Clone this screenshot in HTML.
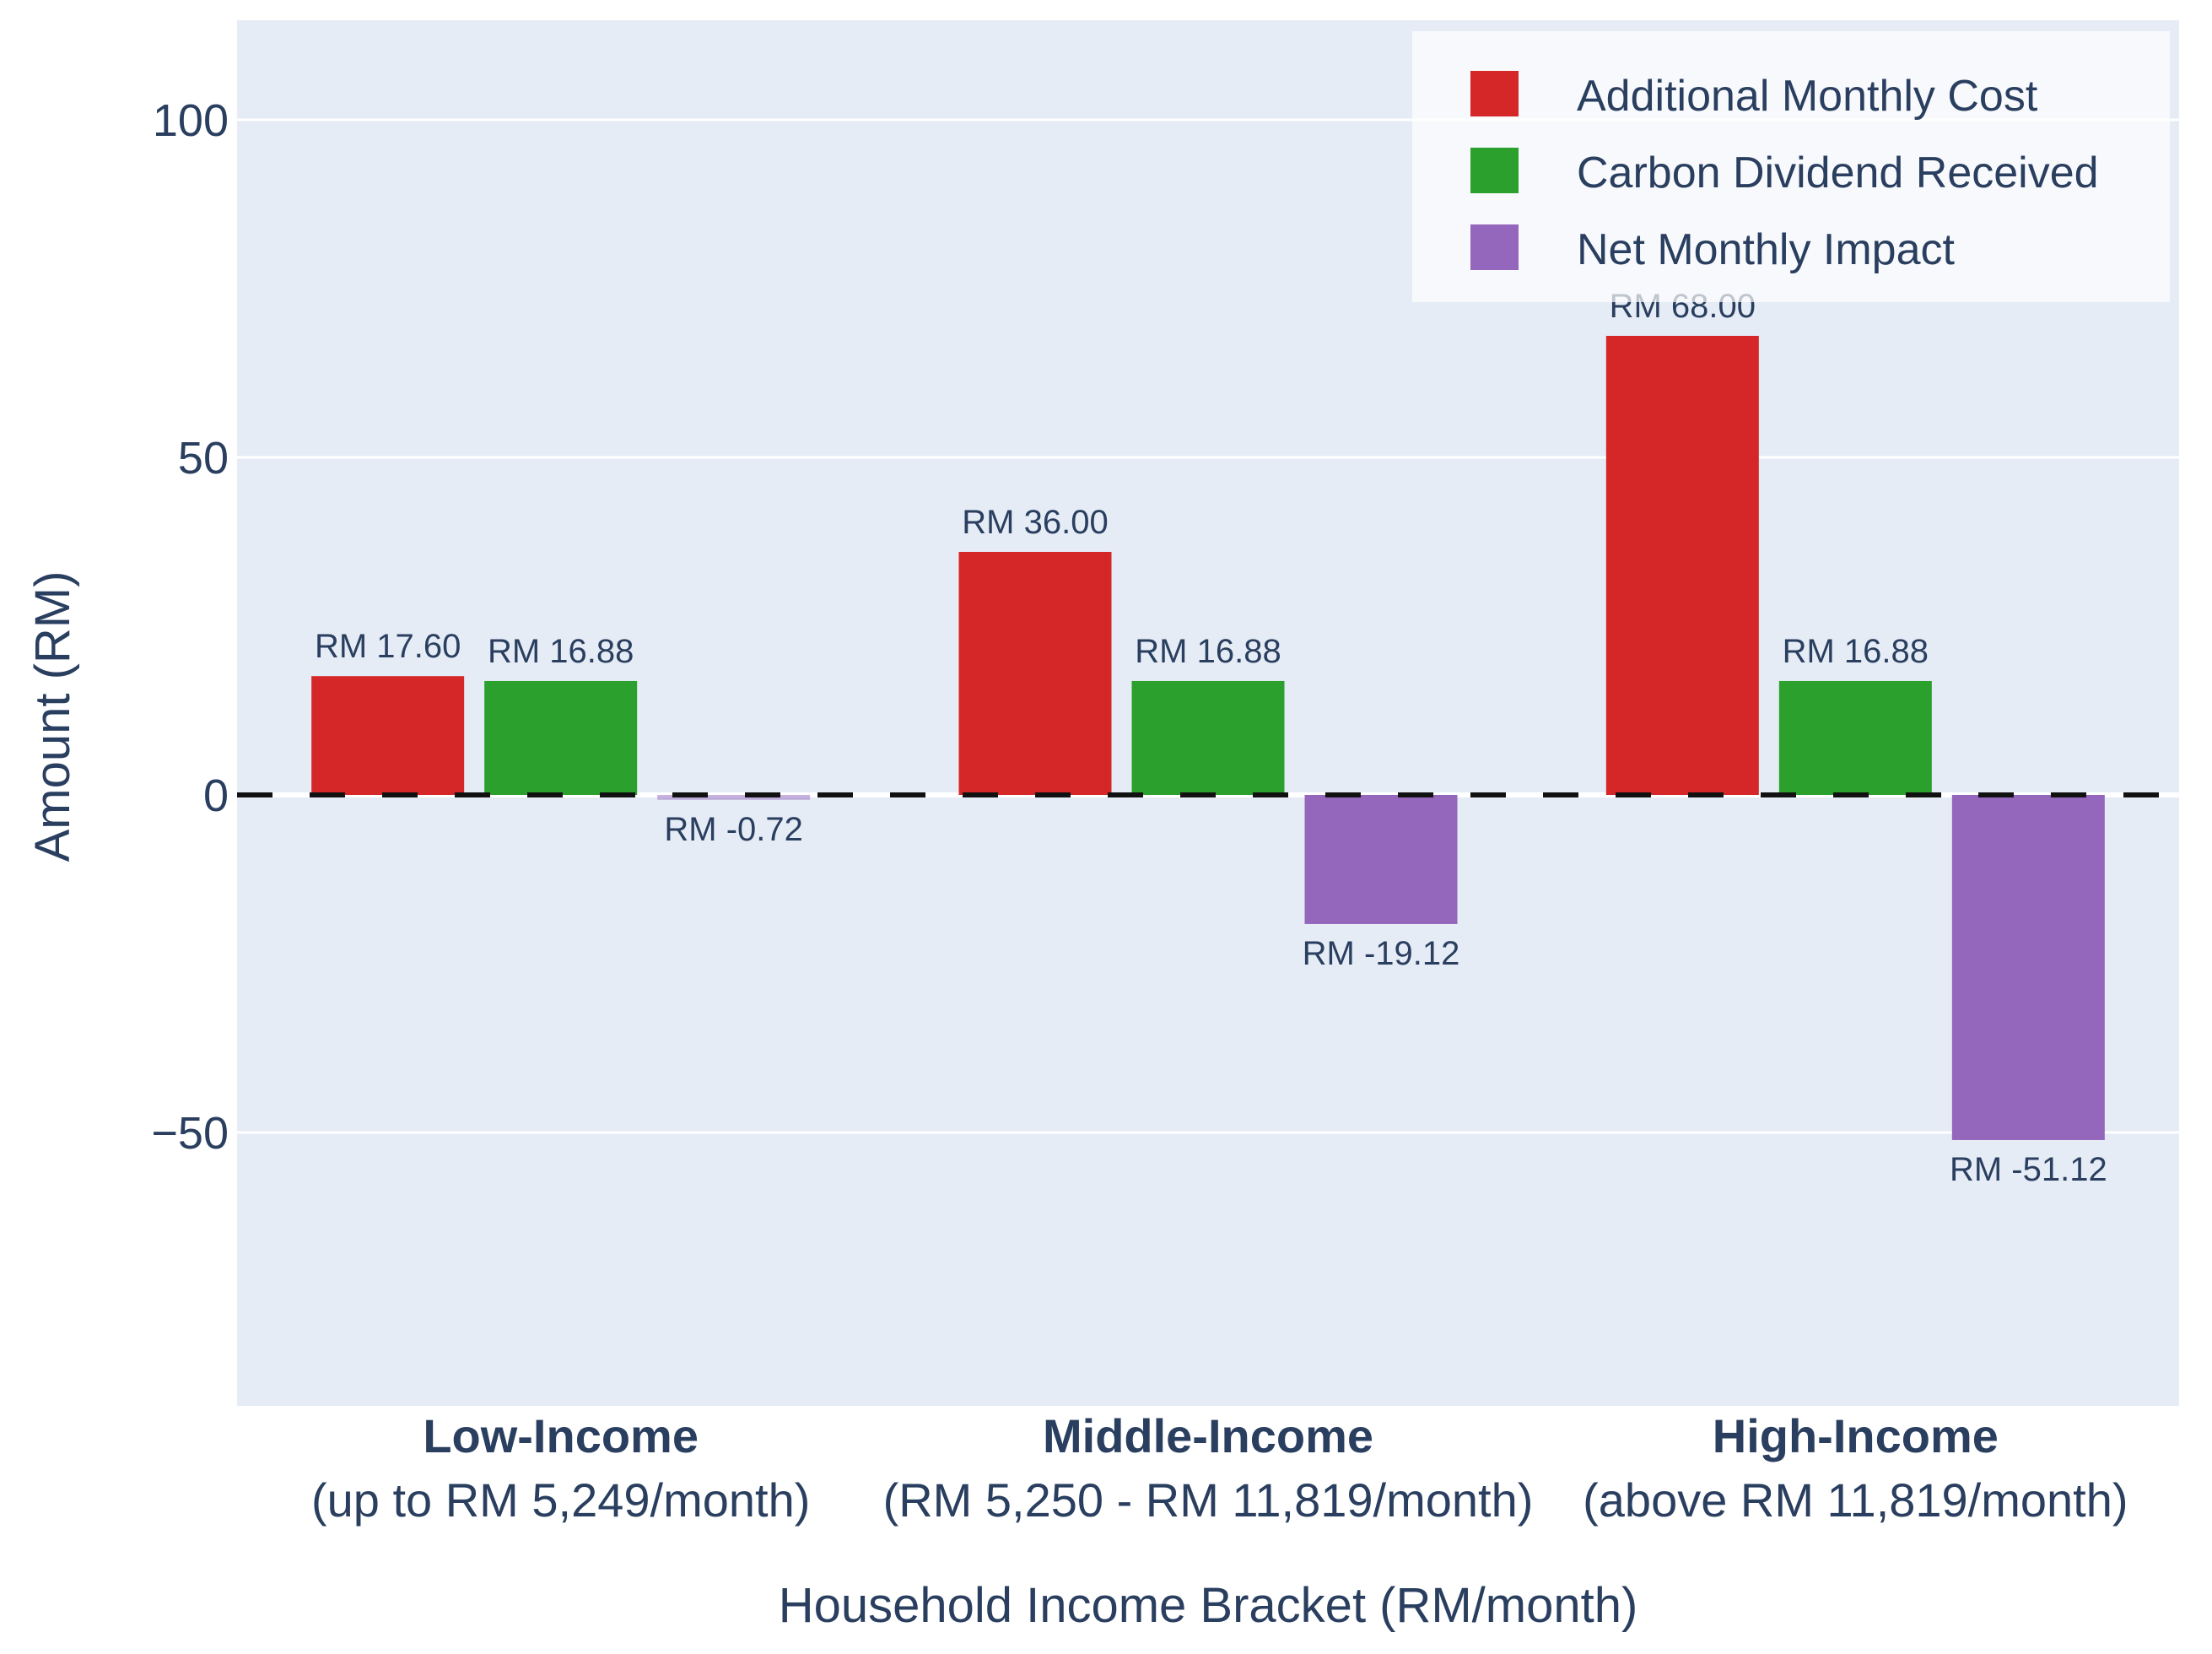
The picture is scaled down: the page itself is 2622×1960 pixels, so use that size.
<!DOCTYPE html>
<html><head><meta charset="utf-8"><style>
html,body{margin:0;padding:0;background:#fff;}
svg{display:block;font-family:"Liberation Sans",Arial,sans-serif;}
</style></head><body>
<svg id="chart" width="2622" height="1960" viewBox="0 0 2622 1960" xmlns="http://www.w3.org/2000/svg">
<rect x="281" y="24" width="2302" height="1642" fill="#e5ecf6"/>
<g id="grid"></g>
<g id="bars"></g>
<line id="zeroline" x1="281" x2="2560" stroke="#111" stroke-width="6" stroke-dasharray="42,44"/>
<g id="labels"></g>
<g id="yticks"></g>
<g id="xticks"></g>
<text transform="translate(82,849) rotate(-90)" text-anchor="middle" font-size="58" fill="#2a3f5f">Amount (RM)</text>
<text x="1432" y="1922" text-anchor="middle" font-size="58" fill="#2a3f5f">Household Income Bracket (RM/month)</text>
<g>
<rect x="1674" y="37" width="898" height="321" fill="#ffffff" fill-opacity="0.7"/>
<g><rect x="1743" y="84" width="57" height="54" fill="#d62728"/><text x="1869" y="131" font-size="52" fill="#2a3f5f">Additional Monthly Cost</text></g>
<g><rect x="1743" y="175" width="57" height="54" fill="#2ca02c"/><text x="1869" y="222" font-size="52" fill="#2a3f5f">Carbon Dividend Received</text></g>
<g><rect x="1743" y="266" width="57" height="54" fill="#9467bd"/><text x="1869" y="313" font-size="52" fill="#2a3f5f">Net Monthly Impact</text></g>
</g>
</svg>
<script>
const categories = ["Low-Income","Middle-Income","High-Income"];
const categorySub = ["(up to RM 5,249/month)","(RM 5,250 - RM 11,819/month)","(above RM 11,819/month)"];
const costValues = [17.60, 36.00, 68.00];
const dividendValues = [16.88, 16.88, 16.88];
const netValues = [-0.72, -19.12, -51.12];
const yTicks = [-50, 0, 50, 100];
const yTickLabels = ["\u221250", "0", "50", "100"];

const NS = "http://www.w3.org/2000/svg";
const plotL = 281, plotR = 2583, zeroY = 942, pxPerUnit = 8;
function y(v){ return zeroY - v * pxPerUnit; }
const catW = (plotR - plotL) / categories.length;
function xCenter(i){ return plotL + catW * (i + 0.5); }
const barW = 181, step = 205;
function mk(tag, attrs, parent){ const e = document.createElementNS(NS, tag); for (const k in attrs) e.setAttribute(k, attrs[k]); parent.appendChild(e); return e; }

const grid = document.getElementById('grid');
const yt = document.getElementById('yticks');
yTicks.forEach((t, i) => {
  const g = mk('line', {x1: plotL, x2: plotR, y1: y(t), y2: y(t), stroke: '#fff', 'stroke-width': t === 0 ? 6 : 3}, grid);
  
  
  const tx = mk('text', {x: 271, y: y(t) + 19, 'text-anchor': 'end', 'font-size': 54, fill: '#2a3f5f'}, yt);
  tx.textContent = yTickLabels[i];
  
  
});
document.getElementById('zeroline').setAttribute('y1', y(0));
document.getElementById('zeroline').setAttribute('y2', y(0));

const series = [
  {vals: costValues, color: '#d62728', name: 'cost'},
  {vals: dividendValues, color: '#2ca02c', name: 'dividend'},
  {vals: netValues, color: '#9467bd', name: 'net'}
];
const bars = document.getElementById('bars');
const labels = document.getElementById('labels');
series.forEach((s, si) => {
  s.vals.forEach((v, i) => {
    const cx = xCenter(i) + (si - 1) * step;
    const top = Math.min(y(v), y(0)), h = Math.max(Math.abs(y(v) - y(0)), 1);
    const r = mk('rect', {x: cx - barW / 2, y: top, width: barW, height: h, fill: s.color, 'fill-opacity': Math.abs(v) < 2 ? 0.5 : 1}, bars);
    
    
    const ly = v >= 0 ? y(v) - 22 : y(v) + 48;
    const t = mk('text', {x: cx, y: ly, 'text-anchor': 'middle', 'font-size': 40, fill: '#2a3f5f'}, labels);
    t.textContent = 'RM ' + v.toFixed(2);
    
    
  });
});

const xt = document.getElementById('xticks');
categories.forEach((c, i) => {
  const t1 = mk('text', {x: xCenter(i), y: 1721, 'text-anchor': 'middle', 'font-size': 56, 'font-weight': 'bold', fill: '#2a3f5f'}, xt);
  t1.textContent = c;
  
  
  const t2 = mk('text', {x: xCenter(i), y: 1797, 'text-anchor': 'middle', 'font-size': 56, fill: '#2a3f5f'}, xt);
  t2.textContent = categorySub[i];
  
  
});
</script>
</body></html>
